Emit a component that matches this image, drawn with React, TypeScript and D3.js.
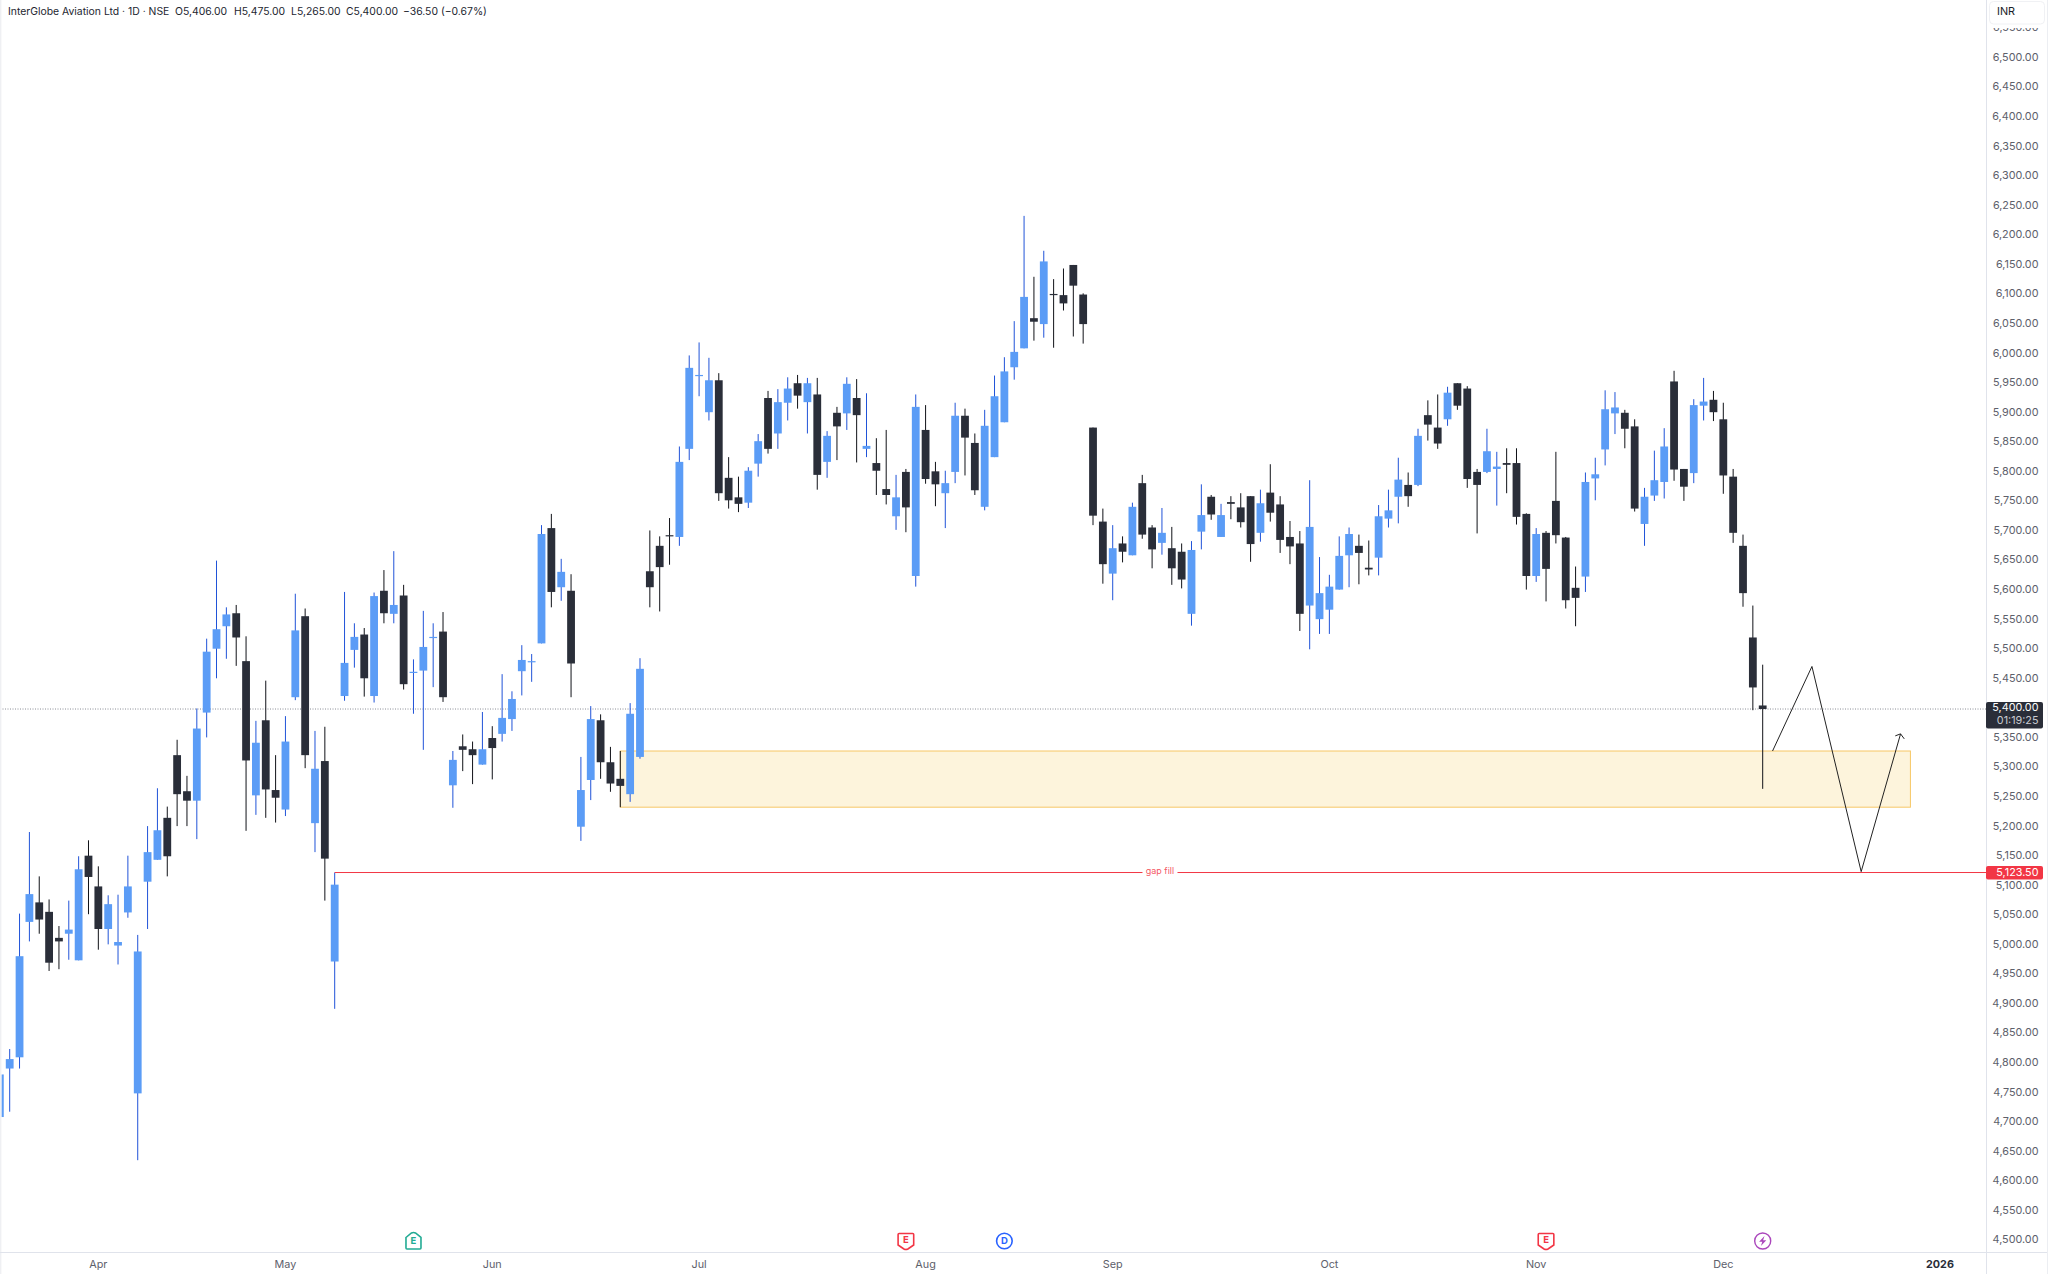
import React from "react";
import * as d3 from "d3";

const opens = [
4710,4792,4811,5040,5073,5057,5013,5020,4975,5152,
5100,5028,5000,5056,4750,5108,5145,5216,5322,5261,
5245,5394,5502,5540,5562,5481,5254,5381,5263,5230,
5420,5557,5207,5312,4973,5422,5500,5526,5422,5600,
5561,5592,5461,5465,5521,5531,5271,5337,5332,5306,
5351,5358,5383,5464,5480,5511,5706,5606,5600,5201,
5280,5381,5310,5282,5256,5319,5633,5676,5694,5691,
5840,5963,5902,5956,5791,5758,5749,5815,5926,5866,
5918,5951,5919,5932,5818,5901,5900,5926,5840,5816,
5772,5726,5801,5625,5872,5802,5765,5801,5896,5850,
5742,5826,5885,5978,6010,6061,6051,6102,6100,6151,
6101,5876,5717,5629,5680,5660,5782,5707,5681,5672,
5666,5561,5700,5759,5691,5750,5741,5760,5698,5766,
5746,5691,5680,5575,5552,5568,5602,5660,5676,5639,
5656,5722,5759,5779,5779,5897,5876,5890,5951,5942,
5801,5801,5806,5816,5816,5730,5625,5698,5752,5690,
5605,5624,5790,5839,5900,5901,5878,5713,5761,5784,
5954,5806,5799,5913,5923,5890,5793,5676,5521,5406];

const highs = [
4782,4825,5054,5192,5117,5078,5033,5076,5151,5178,
5134,5085,5086,5152,5018,5202,5266,5235,5348,5287,
5401,5519,5651,5572,5576,5523,5380,5448,5322,5388,
5595,5570,5363,5370,5123.5,5598,5545,5537,5597,5635,
5667,5610,5484,5566,5545,5564,5329,5357,5345,5395,
5371,5459,5430,5508,5493,5711,5730,5654,5628,5319,
5405,5391,5336,5329,5410,5486,5702,5692,5723,5844,
5998,6020,5994,5968,5826,5793,5809,5865,5938,5941,
5961,5965,5960,5960,5870,5911,5961,5958,5934,5858,
5872,5796,5806,5932,5914,5818,5803,5918,5908,5866,
5906,5964,5995,6056,6234,6131,6175,6127,6145,6151,
6103,5876,5739,5711,5692,5749,5796,5711,5740,5708,
5680,5684,5780,5762,5747,5760,5765,5760,5771,5814,
5760,5718,5701,5787,5657,5627,5692,5707,5695,5685,
5745,5771,5825,5800,5874,5922,5932,5945,5951,5946,
5806,5874,5835,5841,5841,5731,5706,5701,5835,5691,
5641,5800,5825,5939,5936,5906,5890,5774,5837,5875,
5972,5806,5924,5960,5938,5918,5806,5695,5575,5475];

const lows = [
4710,4719,4792,5007,5020,4957,4960,4976,4975,5053,
4993,5002,4968,5047,4637,5028,5145,5117,5202,5202,
5180,5352,5452,5485,5473,5194,5221,5216,5208,5219,
5415,5300,5158,5076,4893,5414,5470,5421,5411,5545,
5545,5433,5392,5331,5437,5412,5233,5295,5273,5306,
5281,5345,5363,5423,5446,5511,5572,5583,5420,5177,
5246,5282,5260,5234,5243,5316,5572,5565,5644,5676,
5821,5929,5888,5752,5739,5733,5740,5793,5832,5840,
5888,5908,5866,5771,5791,5821,5872,5817,5826,5762,
5746,5703,5699,5607,5781,5743,5706,5782,5795,5762,
5736,5826,5885,5957,6010,6023,6028,6011,6074,6030,
6018,5711,5612,5584,5648,5660,5688,5638,5661,5610,
5604,5541,5670,5720,5691,5721,5707,5649,5683,5717,
5664,5645,5532,5501,5527,5527,5602,5606,5611,5626,
5626,5707,5714,5742,5777,5854,5840,5879,5906,5774,
5697,5799,5744,5765,5712,5602,5615,5582,5680,5570,
5540,5598,5753,5812,5865,5841,5734,5676,5752,5756,
5786,5752,5782,5888,5887,5764,5681,5573,5398,5265];

const closes = [
4782,4808,4982,5087,5044,4971,5007,5027,5129,5116,
5028,5070,5006,5100,4990,5158,5195,5151,5256,5245,
5367,5497,5535,5560,5521,5313,5343,5264,5250,5345,
5533,5322,5299,5147,5103,5478,5522,5452,5591,5562,
5576,5442,5463,5505,5522,5420,5314,5331,5322,5332,
5334,5385,5417,5483,5481,5696,5598,5632,5477,5263,
5383,5310,5274,5270,5392,5468,5606,5640,5692,5818,
5977,5965,5956,5765,5753,5747,5803,5853,5840,5919,
5942,5930,5951,5796,5862,5878,5950,5897,5845,5803,
5762,5758,5741,5911,5789,5780,5782,5896,5859,5770,
5879,5929,5971,6004,6097,6055,6157,6100,6086,6116,
6051,5727,5645,5672,5666,5742,5695,5670,5698,5638,
5619,5669,5728,5729,5728,5747,5716,5679,5748,5732,
5686,5675,5561,5708,5596,5607,5659,5696,5664,5636,
5726,5736,5788,5760,5862,5881,5849,5935,5913,5789,
5779,5836,5810,5813,5725,5625,5696,5637,5694,5584,
5588,5784,5797,5907,5910,5874,5739,5759,5787,5844,
5805,5776,5914,5920,5902,5795,5698,5596,5436.5,5400];

const monthTicks = [
  { index: 10, label: "Apr" }, { index: 29, label: "May" }, { index: 50, label: "Jun" },
  { index: 71, label: "Jul" }, { index: 94, label: "Aug" }, { index: 113, label: "Sep" },
  { index: 135, label: "Oct" }, { index: 156, label: "Nov" }, { index: 175, label: "Dec" },
  { index: 197, label: "2026" },
];
const priceTicks = d3.range(4500, 6551, 50);
const headerParts = [
  { x: 8, t: "InterGlobe Aviation Ltd · 1D · NSE" },
  { x: 175, t: "O5,406.00" },
  { x: 234, t: "H5,475.00" },
  { x: 291, t: "L5,265.00" },
  { x: 346, t: "C5,400.00" },
  { x: 403, t: "−36.50 (−0.67%)" },
];
const lastPrice = 5400;
const gapPrice = 5123.5;
const gapStartIndex = 34;
const zoneTop = 5329;
const zoneBottom = 5234;
const zoneStart = 63;
const zoneEnd = 194;
const pathIndex = [180, 184, 189, 193];
const pathPrice = [5329, 5472, 5125, 5358];

const W = 2048, H = 1274;
const AXIS_X = 1986, AXIS_Y = 1252;
const FONT = "Inter, 'Noto Sans', sans-serif";
const BLUE = "#5b9cf6", DARK = "#2a2e39";
const BLUE_W = "#2053d8", DARK_W = "#101218";
const TXT = "#5d606b", RED = "#f23645";
const AXIS_FONT = 10.8;
const AXIS_TEXT_X = 2038.5;

const x = d3.scaleLinear().domain([0, 179]).range([-0.15, 1762.7]);
const y = d3.scaleLinear().domain([4500, 6500]).range([1241.2, 58.6]);
const fmt = d3.format(",.2f");

const GAP_LABEL_I = 117.8;

export default function App() {
  const pathPts = pathIndex.map((i, k) => [x(i), y(pathPrice[k])] as [number, number]);
  const tip = pathPts[pathPts.length - 1];
  return (
    <svg
      width={W}
      height={H}
      viewBox={`0 0 ${W} ${H}`}
      style={{ position: "fixed", left: 0, top: 0, display: "block", background: "#fff" }}
      fontFamily={FONT}
    >
      <rect width={W} height={H} fill="#fff" />
      <defs>
        <clipPath id="pane"><rect x={1.5} y={0} width={AXIS_X - 1.5} height={AXIS_Y} /></clipPath>
      </defs>
      <g clipPath="url(#pane)">
        <rect
          x={x(zoneStart)}
          y={y(zoneTop)}
          width={x(zoneEnd) - x(zoneStart)}
          height={y(zoneBottom) - y(zoneTop)}
          fill="#fdf4dc"
          stroke="#f7c766"
          strokeWidth={1}
        />
        <line x1={0} x2={AXIS_X} y1={y(lastPrice)} y2={y(lastPrice)} stroke="#8a8d96" strokeDasharray="1 1.5" />
        {opens.map((o, i) => {
          const c = closes[i];
          const up = c >= o;
          const cx = x(i);
          const top = y(Math.max(o, c));
          const bot = y(Math.min(o, c));
          return (
            <g key={i}>
              <line x1={cx} x2={cx} y1={y(highs[i])} y2={y(lows[i])} stroke={up ? BLUE_W : DARK_W} strokeWidth={1} />
              <rect x={cx - 3.9} width={7.8} y={top} height={Math.max(bot - top, 1.2)} fill={up ? BLUE : DARK} />
            </g>
          );
        })}
        <line x1={x(gapStartIndex)} x2={AXIS_X} y1={y(gapPrice)} y2={y(gapPrice)} stroke={RED} strokeWidth={1} />
        <rect x={x(GAP_LABEL_I) - 17.5} y={y(gapPrice) - 5} width={35} height={10} fill="#fff" />
        <text x={x(GAP_LABEL_I)} y={y(gapPrice) - 0.5} textAnchor="middle" dominantBaseline="middle" fontSize={9} fill={RED} fillOpacity={0.85}>gap fill</text>
        <polyline points={pathPts.map((p) => p.join(",")).join(" ")} fill="none" stroke="#222" strokeWidth={1} />
        <polyline
          points={`${tip[0] - 5.3},${tip[1] + 2} ${tip[0]},${tip[1]} ${tip[0] + 3.7},${tip[1] + 5}`}
          fill="none"
          stroke="#222"
          strokeWidth={1}
        />
      </g>

      {headerParts.map((p) => (
        <text key={p.t} x={p.x} y={12} dominantBaseline="middle" fontSize={10.4} fill="#23262f">{p.t}</text>
      ))}

      <line x1={0.7} x2={0.7} y1={0} y2={H} stroke="#eff0f3" strokeWidth={1.4} />
      <line x1={AXIS_X + 0.5} x2={AXIS_X + 0.5} y1={0} y2={H} stroke="#e0e3eb" />
      <line x1={0} x2={2048} y1={AXIS_Y + 0.5} y2={AXIS_Y + 0.5} stroke="#e0e3eb" />
      <line x1={2047.5} x2={2047.5} y1={0} y2={H} stroke="#eceef2" />

      {priceTicks.filter((p) => p !== lastPrice).map((p) => (
        <text key={p} x={AXIS_TEXT_X} y={y(p) - 0.7} textAnchor="end" dominantBaseline="middle" fontSize={AXIS_FONT} fill={TXT}>
          {fmt(p)}
        </text>
      ))}

      <rect x={1988} y={0} width={58} height={28} fill="#fff" />
      <rect x={1989.5} y={1.5} width={55} height={22.5} rx={4} fill="#fff" stroke="#f0f1f4" />
      <text x={1997} y={12.5} dominantBaseline="middle" fontSize={AXIS_FONT} fill="#1a1d27">INR</text>

      <rect x={1986} y={702} width={57} height={26.5} rx={2} fill={DARK} />
      <text x={AXIS_TEXT_X} y={708.5} textAnchor="end" dominantBaseline="middle" fontSize={AXIS_FONT} fill="#fff">{fmt(lastPrice)}</text>
      <text x={AXIS_TEXT_X} y={721} textAnchor="end" dominantBaseline="middle" fontSize={AXIS_FONT} fill="#c9cbd1">01:19:25</text>

      <rect x={1986} y={866} width={57} height={13.5} rx={2} fill={RED} />
      <text x={AXIS_TEXT_X} y={873} textAnchor="end" dominantBaseline="middle" fontSize={AXIS_FONT} fill="#fff">{fmt(gapPrice)}</text>

      {monthTicks.map((t) => (
        <text
          key={t.label}
          x={x(t.index)}
          y={1265}
          textAnchor="middle"
          dominantBaseline="middle"
          fontSize={AXIS_FONT}
          fontWeight={t.label === "2026" ? 700 : 400}
          fill={t.label === "2026" ? "#2a2e39" : TXT}
        >
          {t.label}
        </text>
      ))}

      <g transform={`translate(${x(42)},1241)`}>
        <path d="M-7.5,-3.5 L-2,-8 Q0,-9 2,-8 L7.5,-3.5 L7.5,7 Q7.5,8 6.5,8 L-6.5,8 Q-7.5,8 -7.5,7 Z" fill="#fff" stroke="#22ab94" strokeWidth={1.6} />
        <text y={0.8} textAnchor="middle" dominantBaseline="middle" fontSize={9.5} fontWeight={700} fill="#22ab94">E</text>
      </g>
      <g transform={`translate(${x(92)},1241)`}>
        <path d="M-6.8,-7.5 L6.8,-7.5 Q7.8,-7.5 7.8,-6.5 L7.8,4 L2,8 Q0,9 -2,8 L-7.8,4 L-7.8,-6.5 Q-7.8,-7.5 -6.8,-7.5 Z" fill="#fff" stroke={RED} strokeWidth={1.6} />
        <text y={-0.8} textAnchor="middle" dominantBaseline="middle" fontSize={9.5} fontWeight={700} fill={RED}>E</text>
      </g>
      <g transform={`translate(${x(102)},1241)`}>
        <circle r={7.8} fill="#fff" stroke="#2962ff" strokeWidth={1.6} />
        <text y={0.6} textAnchor="middle" dominantBaseline="middle" fontSize={9.5} fontWeight={700} fill="#2962ff">D</text>
      </g>
      <g transform={`translate(${x(157)},1241)`}>
        <path d="M-6.8,-7.5 L6.8,-7.5 Q7.8,-7.5 7.8,-6.5 L7.8,4 L2,8 Q0,9 -2,8 L-7.8,4 L-7.8,-6.5 Q-7.8,-7.5 -6.8,-7.5 Z" fill="#fff" stroke={RED} strokeWidth={1.6} />
        <text y={-0.8} textAnchor="middle" dominantBaseline="middle" fontSize={9.5} fontWeight={700} fill={RED}>E</text>
      </g>
      <g transform={`translate(${x(179)},1241)`}>
        <circle r={8} fill="#fff" stroke="#ab47bc" strokeWidth={1.4} />
        <path d="M1.8,-5 L-3.6,0.8 L-0.4,0.8 L-1.8,5 L3.6,-0.8 L0.4,-0.8 Z" fill="#ab47bc" />
      </g>
    </svg>
  );
}
